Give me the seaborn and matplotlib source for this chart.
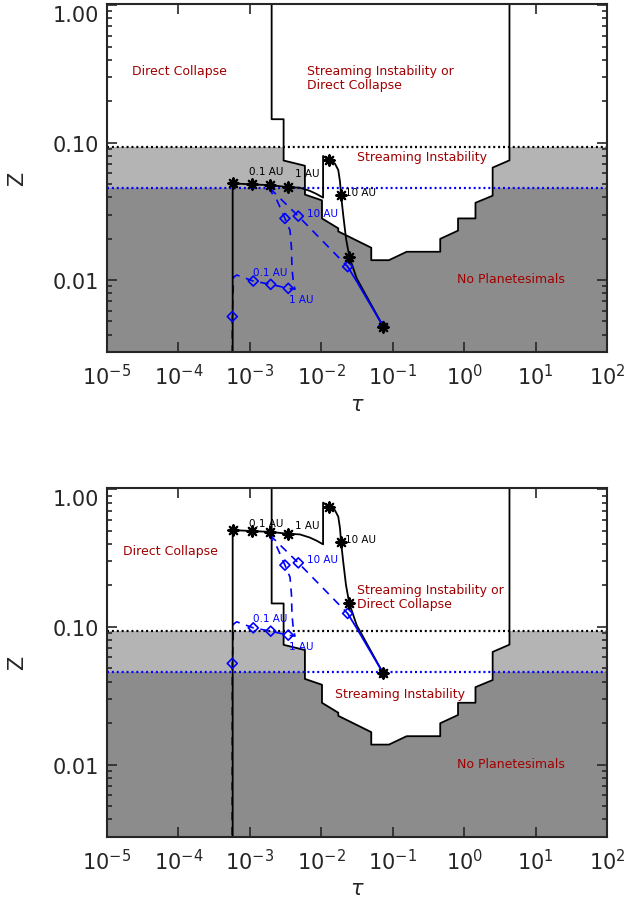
import numpy as np
import pandas as pd
import seaborn as sns
import matplotlib
matplotlib.use('Agg')
import matplotlib.pyplot as plt
from matplotlib.ticker import LogLocator, FixedLocator, FuncFormatter, NullLocator

# Boundary of the streaming instability region (same in both panels)
bound_tau = [2.02e-3, 2.02e-3, 2.97e-3, 2.97e-3, 5.90e-3, 5.90e-3, 1.023e-2,
             1.023e-2, 1.73e-2, 1.73e-2, 5.01e-2, 5.01e-2, 8.87e-2, 0.157,
             0.463, 0.463, 0.822, 0.822, 1.442, 1.442, 2.51, 2.51, 4.315, 4.315]
bound_z = [10, 0.148, 0.148, 0.0741, 0.0679, 0.0419, 0.038, 0.0281, 0.0238,
           0.0226, 0.0172, 0.01396, 0.01396, 0.01607, 0.01607, 0.01995, 0.0229,
           0.0281, 0.0281, 0.0365, 0.0411, 0.0658, 0.0743, 10]

# critical metallicities (black / blue dotted)
z_crit_black = 0.093
z_crit_blue = 0.047

# black trajectory (top panel metallicity)
blk_tau = [5.75e-4, 5.75e-4, 1.08e-3, 1.91e-3, 3.45e-3, 5.0e-3, 6.9e-3, 8.6e-3,
           1.06e-2, 1.06e-2, 1.29e-2, 1.55e-2, 1.73e-2, 1.83e-2, 1.89e-2,
           2.03e-2, 2.22e-2, 2.47e-2, 3.13e-2, 7.38e-2]
blk_z = [1e-4, 0.0505, 0.0497, 0.0490, 0.0475, 0.0470, 0.0446, 0.0423, 0.0398,
         0.0800, 0.0742, 0.0705, 0.0632, 0.0520, 0.0417, 0.0297, 0.0201, 0.0148,
         0.0103, 0.00459]
star_tau = [5.75e-4, 1.08e-3, 1.91e-3, 3.45e-3, 1.29e-2, 1.89e-2, 2.47e-2, 7.38e-2]
star_z = [0.0505, 0.0497, 0.0490, 0.0475, 0.0742, 0.0417, 0.0148, 0.00459]

# blue trajectories
blueA_tau = [1.795e-3, 2.40e-3, 3.10e-3, 3.65e-3, 3.83e-3, 3.89e-3, 4.08e-3,
             4.29e-3, 3.45e-3, 1.96e-3, 1.117e-3, 6.55e-4, 5.90e-4, 5.81e-4,
             5.68e-4, 5.62e-4]
blueA_z = [0.0473, 0.0380, 0.0281, 0.0230, 0.0170, 0.0122, 0.00948, 0.00857,
           0.00871, 0.00931, 0.00984, 0.01089, 0.01047, 0.00738, 0.00543, 1e-4]
blueB_tau = [1.91e-3, 4.77e-3, 2.34e-2]
blueB_z = [0.0465, 0.0292, 0.01253]
blueC_tau = [2.34e-2, 3.13e-2, 7.38e-2]
blueC_z = [0.01253, 0.0098, 0.00459]
dia_tau = [3.10e-3, 3.45e-3, 1.96e-3, 1.117e-3, 5.68e-4, 4.77e-3, 2.34e-2, 7.38e-2]
dia_z = [0.0281, 0.00871, 0.00931, 0.00984, 0.00543, 0.0292, 0.01253, 0.00459]

# metallicity factor of each panel
z_factor = [1, 10]

au_text = ['0.1 AU', '1 AU', '10 AU']
blk_lab_tau = [1.71e-3, 6.3e-3, 3.57e-2]
blk_lab_z = [[0.0621, 0.0605, 0.0441], [0.573, 0.547, 0.432]]
blue_lab_tau = [1.95e-3, 5.30e-3, 1.05e-2]
blue_lab_z = [0.01153, 0.00729, 0.031]

region_text = ['Direct Collapse', 'Streaming Instability or\nDirect Collapse',
               'Streaming Instability', 'No Planetesimals']
region_tau = [[2.26e-5, 6.37e-3, 3.13e-2, 0.787],
              [1.66e-5, 3.13e-2, 1.556e-2, 0.787]]
region_z = [[0.337, 0.300, 0.0791, 0.0103],
            [0.356, 0.1667, 0.0327, 0.01016]]

sns.set_style('ticks')
plt.rcParams['font.family'] = ['DejaVu Sans']

fig = plt.figure(figsize=(6.26, 9.03), dpi=100)
axes = [fig.add_axes([0.1709, 0.6091, 0.7987, 0.3854]),
        fig.add_axes([0.1709, 0.0725, 0.7987, 0.3859])]

dark_red = '#a00000'

for i, ax in enumerate(axes):
    f = z_factor[i]
    ax.set_xscale('log')
    ax.set_yscale('log')
    ax.set_xlim(1e-5, 1e2)
    ax.set_ylim(3e-3, 1.02)

    # shaded regions
    ax.axhspan(1e-4, z_crit_blue, color='#8c8c8c', lw=0, zorder=0)
    ax.axhspan(z_crit_blue, z_crit_black, color='#b4b4b4', lw=0, zorder=0)
    ax.fill_between(bound_tau, bound_z, 10, color='white', lw=0, zorder=1)
    sns.lineplot(x=bound_tau, y=bound_z, sort=False, estimator=None, ax=ax,
                 color='black', linewidth=1.3, zorder=2)

    ax.axhline(z_crit_black, color='black', lw=1.6, ls=(0, (0.9, 1.3)), zorder=3)
    ax.axhline(z_crit_blue, color='blue', lw=1.6, ls=(0, (0.9, 1.3)), zorder=3)

    # trajectories
    sns.lineplot(x=blueA_tau, y=np.array(blueA_z) * f, sort=False, estimator=None,
                 ax=ax, color='blue', linewidth=1.2, linestyle=(0, (5, 4)), zorder=4)
    sns.lineplot(x=blueB_tau, y=np.array(blueB_z) * f, sort=False, estimator=None,
                 ax=ax, color='blue', linewidth=1.2, linestyle=(0, (5, 4)), zorder=4)
    sns.lineplot(x=blk_tau, y=np.array(blk_z) * f, sort=False, estimator=None,
                 ax=ax, color='black', linewidth=1.3, zorder=5)
    sns.lineplot(x=blueC_tau, y=np.array(blueC_z) * f, sort=False, estimator=None,
                 ax=ax, color='blue', linewidth=1.3, zorder=5)
    sns.scatterplot(x=dia_tau, y=np.array(dia_z) * f, ax=ax, marker='D', s=26,
                    facecolor='none', edgecolor='blue', linewidth=1.2, zorder=6)
    sns.scatterplot(x=star_tau, y=np.array(star_z) * f, ax=ax, marker=(8, 2, 0),
                    s=55, color='black', linewidth=1.6, zorder=7)

    for t, x, y in zip(au_text, blk_lab_tau, blk_lab_z[i]):
        ax.text(x, y, t, color='black', fontsize=7.5, ha='center', va='center', zorder=8)
    for t, x, y in zip(au_text, blue_lab_tau, blue_lab_z):
        ax.text(x, y * f, t, color='blue', fontsize=7.5, ha='center', va='center', zorder=8)
    for t, x, y in zip(region_text, region_tau[i], region_z[i]):
        ax.text(x, y, t, color=dark_red, fontsize=9, ha='left', va='center',
                linespacing=1.1, zorder=8)

    # axes styling
    ax.xaxis.set_major_locator(LogLocator(base=10, numticks=12))
    ax.xaxis.set_minor_locator(NullLocator())
    ax.yaxis.set_major_locator(FixedLocator([0.01, 0.1, 1.0]))
    ax.yaxis.set_minor_locator(LogLocator(base=10, subs=np.arange(2, 10), numticks=12))
    ax.yaxis.set_major_formatter(FuncFormatter(lambda v, p: f'{v:.2f}'))
    ax.tick_params(which='both', direction='in', top=True, right=True, width=1.2)
    ax.tick_params(which='major', length=7, labelsize=15)
    ax.tick_params(which='minor', length=3.6)
    ax.tick_params(axis='x', which='major', pad=8)
    ax.tick_params(axis='y', which='major', pad=6)
    for s in ax.spines.values():
        s.set_linewidth(1.5)
        s.set_zorder(10)
    ax.set_xlabel(r'$\tau$', fontsize=15)
    ax.set_ylabel('Z', fontsize=15)
    ax.xaxis.set_label_coords(0.5, -0.12)
    ax.yaxis.set_label_coords(-0.16, 0.5)
    # the 1.00 label sits just below the top edge
    ax.yaxis.get_major_ticks()[2].label1.set_verticalalignment('top')

fig.savefig('out.png', dpi=100)
